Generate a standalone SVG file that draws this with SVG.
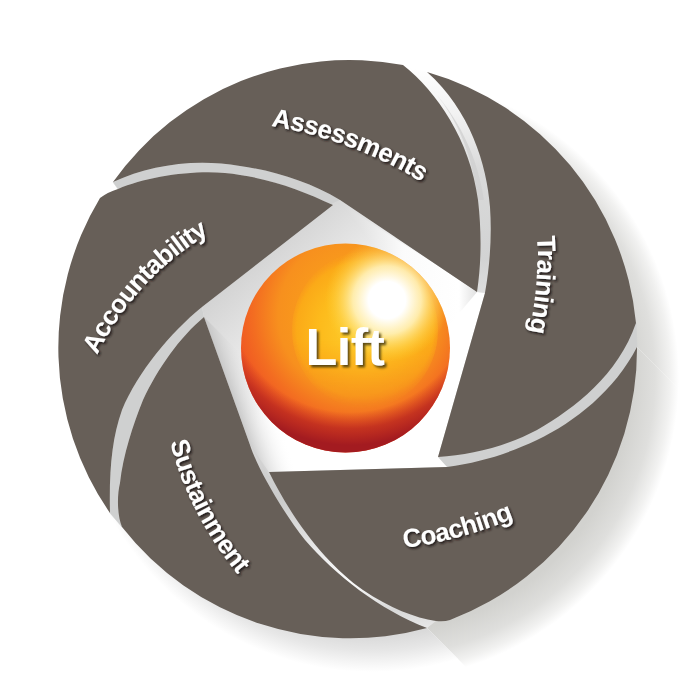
<svg xmlns="http://www.w3.org/2000/svg" width="700" height="700" viewBox="0 0 700 700">
  <defs>
    <style>
      .blade { fill: #675f58; }
      .gap { fill: #cfd0d0; stroke: #cfd0d0; stroke-width: 0.6; }
      .label { font-family: "Liberation Sans", Arial, sans-serif; font-weight: 700; font-size: 26px; letter-spacing: -0.6px; fill: #fff; filter: url(#textShade); }
      .hub { font-family: "Liberation Sans", Arial, sans-serif; font-weight: 700; font-size: 52px; letter-spacing: -0.5px; fill: #fff; filter: url(#hubShade); }
    </style>
    <filter id="textShade" x="-10%" y="-30%" width="120%" height="160%">
      <feDropShadow dx="1.6" dy="1.8" stdDeviation="0.8" flood-color="#1c1814" flood-opacity="0.95"/>
    </filter>
    <filter id="hubShade" x="-10%" y="-20%" width="125%" height="145%">
      <feDropShadow dx="2.2" dy="2.4" stdDeviation="0.9" flood-color="#4e3c10" flood-opacity="0.9"/>
    </filter>

    <!-- long cast shadows on the paper -->
    <radialGradient id="castA" gradientUnits="userSpaceOnUse" cx="376" cy="378" r="303">
      <stop offset="0.84" stop-color="#d2d2cf"/>
      <stop offset="0.92" stop-color="#dfdfdd"/>
      <stop offset="0.97" stop-color="#f1f1f0"/>
      <stop offset="1" stop-color="#ffffff"/>
    </radialGradient>
    <radialGradient id="castB" gradientUnits="userSpaceOnUse" cx="372" cy="374" r="298">
      <stop offset="0.88" stop-color="#dadada"/>
      <stop offset="0.93" stop-color="#e7e7e7"/>
      <stop offset="0.97" stop-color="#f5f5f5"/>
      <stop offset="1" stop-color="#ffffff"/>
    </radialGradient>
    <clipPath id="sectorTraining"><path d="M347,349 L470,60 L700,60 L700,410 L637,347 Z"/></clipPath>
    <clipPath id="sectorCoaching"><path d="M347,349 L637,347 L700,410 L700,700 L499,700 L427,628 Z"/></clipPath>
    <clipPath id="sectorSustain"><path d="M347,349 L427,628 L499,700 L60,700 L60,500 Z"/></clipPath>

    <!-- paler ribbons between blades -->
    <linearGradient id="ribbonTop" gradientUnits="userSpaceOnUse" x1="0" y1="68" x2="0" y2="292">
      <stop offset="0" stop-color="#ffffff"/>
      <stop offset="0.2" stop-color="#f2f2f2"/>
      <stop offset="0.45" stop-color="#dadada"/>
      <stop offset="0.85" stop-color="#d2d3d3"/>
      <stop offset="1" stop-color="#dedede"/>
    </linearGradient>
    <linearGradient id="ribbonLow" gradientUnits="userSpaceOnUse" x1="0" y1="445" x2="0" y2="628">
      <stop offset="0" stop-color="#d6d6d6"/>
      <stop offset="0.3" stop-color="#cbcbcb"/>
      <stop offset="0.52" stop-color="#e2e2e2"/>
      <stop offset="0.75" stop-color="#fbfbfb"/>
      <stop offset="0.9" stop-color="#d8d8d8"/>
      <stop offset="1" stop-color="#e8e8e8"/>
    </linearGradient>

    <!-- inner pentagon shading -->
    <linearGradient id="well" gradientUnits="userSpaceOnUse" x1="245" y1="235" x2="345" y2="345">
      <stop offset="0" stop-color="#cbcbcb"/>
      <stop offset="0.6" stop-color="#e9e9e9"/>
      <stop offset="1" stop-color="#ffffff"/>
    </linearGradient>
    <linearGradient id="wellTop" gradientUnits="userSpaceOnUse" x1="340" y1="0" x2="480" y2="0">
      <stop offset="0" stop-color="#d8d8d8"/>
      <stop offset="0.45" stop-color="#fbfbfb"/>
      <stop offset="0.85" stop-color="#ffffff"/>
      <stop offset="1" stop-color="#dcdcdc"/>
    </linearGradient>
    <linearGradient id="wellLeft" gradientUnits="userSpaceOnUse" x1="227" y1="381" x2="262" y2="369">
      <stop offset="0" stop-color="#c9c9c9"/>
      <stop offset="1" stop-color="#ffffff" stop-opacity="0"/>
    </linearGradient>

    <!-- sphere -->
    <radialGradient id="sphereBody" gradientUnits="userSpaceOnUse" cx="358" cy="315" r="145">
      <stop offset="0" stop-color="#fbae17"/>
      <stop offset="0.55" stop-color="#f7901e"/>
      <stop offset="0.72" stop-color="#f36d21"/>
      <stop offset="0.86" stop-color="#ef5523"/>
      <stop offset="1" stop-color="#ea4d24"/>
    </radialGradient>
    <radialGradient id="sphereRed" gradientUnits="userSpaceOnUse" cx="350" cy="290" r="165">
      <stop offset="0.74" stop-color="#c02a20" stop-opacity="0"/>
      <stop offset="0.84" stop-color="#b9271f" stop-opacity="0.8"/>
      <stop offset="0.94" stop-color="#a31b20"/>
      <stop offset="1" stop-color="#a31b20"/>
    </radialGradient>
    <radialGradient id="sphereGlow" gradientUnits="userSpaceOnUse" cx="365" cy="330" r="76">
      <stop offset="0" stop-color="#fed130"/>
      <stop offset="0.6" stop-color="#fdbb1c"/>
      <stop offset="0.9" stop-color="#fbaa18"/>
      <stop offset="1" stop-color="#fa9f1a" stop-opacity="0.35"/>
    </radialGradient>
    <radialGradient id="sphereSpot" gradientUnits="userSpaceOnUse" cx="387" cy="300" r="62">
      <stop offset="0" stop-color="#ffffff"/>
      <stop offset="0.3" stop-color="#ffffff"/>
      <stop offset="0.55" stop-color="#fff2bc" stop-opacity="0.9"/>
      <stop offset="0.8" stop-color="#ffdb60" stop-opacity="0.45"/>
      <stop offset="1" stop-color="#fed130" stop-opacity="0"/>
    </radialGradient>
    <linearGradient id="glowFade" gradientUnits="userSpaceOnUse" x1="0" y1="340" x2="0" y2="415">
      <stop offset="0" stop-color="#fff"/>
      <stop offset="1" stop-color="#000"/>
    </linearGradient>
    <mask id="glowMask" maskUnits="userSpaceOnUse" x="240" y="240" width="220" height="220">
      <rect x="240" y="240" width="220" height="220" fill="url(#glowFade)"/>
    </mask>
    <clipPath id="sphereEdge"><circle cx="345.5" cy="348" r="104.5"/></clipPath>

    <path id="arcAssessments" d="M271,126 A420,420 0 0 1 428,186"/>
    <path id="arcTraining" d="M537,236 Q540,285 527,342"/>
    <path id="arcCoaching" d="M404,548 Q460,541 520,516"/>
    <path id="arcSustainment" d="M170,442 Q190,520 246,584"/>
    <path id="arcAccountability" d="M97,355 Q138,272 222,226"/>
  </defs>

  <rect width="700" height="700" fill="#ffffff"/>

  <!-- shadows thrown to the lower right -->
  <g id="shadows">
    <circle cx="376" cy="378" r="303" fill="url(#castA)" clip-path="url(#sectorTraining)"/>
    <circle cx="376" cy="378" r="303" fill="url(#castA)" clip-path="url(#sectorCoaching)"/>
    <circle cx="372" cy="374" r="298" fill="url(#castB)" clip-path="url(#sectorSustain)"/>
  </g>

  <!-- ribbons and centre well under the blades -->
  <g id="ribbons">
    <path class="gap" d="M113,182 C150,165 195,158 240,166 C275,171 310,182 340,200 L333,205 C305,192 275,180 240,175 C205,168 150,175 118,189 Z"/>
    <path d="M403,65 C437,92 470,140 478,200 C482,235 481,265 477,292 L485,293 C490,265 492,235 490,207 C487,165 470,110 427,72 Z" fill="url(#ribbonTop)"/>
    <path d="M437,95 C455,118 472,150 478,200 L484,200 C478,160 462,125 437,95 Z" fill="#cfcfcf" opacity="0.75"/>
    <path class="gap" d="M636,323 C618,375 575,408 537,430 C505,447 470,455 438,457 L447,467 C480,462 505,455 537,440 C575,422 615,390 637,347 Z"/>
    <path d="M250,445 C258,470 285,515 305,540 C335,575 380,610 427,628 L436,621 C415,618 390,608 363,590 C330,567 295,525 269,472 Z" fill="url(#ribbonLow)"/>
    <path class="gap" d="M202,307 C170,333 138,372 122,410 C112,438 109,470 110,513 L122,527 C117,515 117,495 120,483 C123,455 133,425 143,400 C158,368 180,337 204,317 Z"/>
    <path d="M333,203 L340,200 L477,292 L485,293 L438,457 L447,467 L269,472 L250,445 L204,317 L202,307 Z" fill="url(#well)"/>
    <path d="M340,203 L477,292 L445,330 L373,247 Z" fill="url(#wellTop)"/>
    <path d="M204,317 L250,445 L269,476 L312,472 L247,360 Z" fill="url(#wellLeft)"/>
  </g>

  <g id="node-assessments">
    <path class="blade" d="M113,182 A290,290 0 0 1 403,65 C437,92 470,140 478,200 C482,235 481,265 477,292 L340,200 C310,182 275,171 240,166 C195,158 150,165 113,182 Z"/>
    <text class="label"><textPath href="#arcAssessments">Assessments</textPath></text>
  </g>
  <g id="node-training">
    <path class="blade" d="M427,72 A290,290 0 0 1 636,323 C618,375 575,408 537,430 C505,447 470,455 438,457 L485,293 C490,265 492,235 490,207 C487,165 470,110 427,72 Z"/>
    <text class="label"><textPath href="#arcTraining">Training</textPath></text>
  </g>
  <g id="node-coaching">
    <path class="blade" d="M637,347 A290,290 0 0 1 450,620 Q444,622 436,621 C415,618 390,608 363,590 C330,567 295,525 269,472 L447,467 C480,462 505,455 537,440 C575,422 615,390 637,347 Z"/>
    <text class="label"><textPath href="#arcCoaching">Coaching</textPath></text>
  </g>
  <g id="node-sustainment">
    <path class="blade" d="M204,317 L250,445 C258,470 285,515 305,540 C335,575 380,610 427,628 A290,290 0 0 1 122,527 C117,515 117,495 120,483 C123,455 133,425 143,400 C158,368 180,337 204,317 Z"/>
    <text class="label"><textPath href="#arcSustainment">Sustainment</textPath></text>
  </g>
  <g id="node-accountability">
    <path class="blade" d="M100,198 Q108,192 118,189 C150,175 205,168 240,175 C275,180 305,192 333,205 L202,307 C170,333 138,372 122,410 C112,438 109,470 110,513 A290,290 0 0 1 100,198 Z"/>
    <text class="label" style="letter-spacing:-0.9px"><textPath href="#arcAccountability">Accountability</textPath></text>
  </g>

  <g id="node-lift">
    <circle cx="345.5" cy="348" r="104.5" fill="url(#sphereBody)"/>
    <g mask="url(#glowMask)">
      <ellipse cx="365" cy="330" rx="73" ry="78" fill="url(#sphereGlow)"/>
    </g>
    <circle cx="345.5" cy="348" r="104.5" fill="url(#sphereRed)"/>
    <circle cx="387" cy="300" r="62" fill="url(#sphereSpot)" clip-path="url(#sphereEdge)"/>
    <text class="hub" x="345" y="365" text-anchor="middle">Lift</text>
  </g>
</svg>
